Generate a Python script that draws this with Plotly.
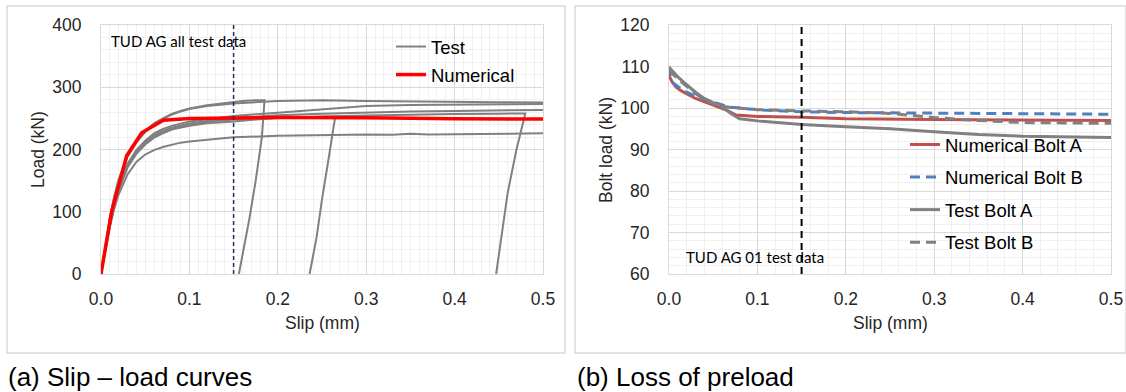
import plotly.graph_objects as go

W, H = 1126, 392

# ---------------- (a) Slip - load curves ----------------
# Seven test records (slip in mm, load in kN); three of them end with an unloading branch
test_slip = [
    [0, 0.005, 0.01, 0.015, 0.02, 0.03, 0.04, 0.05, 0.06, 0.07, 0.08, 0.09, 0.10, 0.12, 0.14, 0.16, 0.175, 0.185,
     0.182, 0.175, 0.168, 0.162, 0.156],
    [0, 0.005, 0.01, 0.015, 0.02, 0.03, 0.04, 0.05, 0.06, 0.07, 0.08, 0.09, 0.10, 0.12, 0.15, 0.2, 0.25, 0.3, 0.35,
     0.4, 0.45, 0.5],
    [0, 0.005, 0.01, 0.015, 0.02, 0.03, 0.04, 0.05, 0.06, 0.07, 0.08, 0.10, 0.12, 0.15, 0.2, 0.25, 0.3, 0.35, 0.4,
     0.45, 0.5],
    [0, 0.005, 0.01, 0.015, 0.02, 0.03, 0.04, 0.05, 0.06, 0.07, 0.08, 0.10, 0.12, 0.15, 0.2, 0.25, 0.3, 0.35, 0.4,
     0.45, 0.5],
    [0, 0.005, 0.01, 0.015, 0.02, 0.03, 0.04, 0.05, 0.06, 0.07, 0.08, 0.10, 0.12, 0.15, 0.18, 0.2, 0.23, 0.265,
     0.258, 0.25, 0.244, 0.236],
    [0, 0.005, 0.01, 0.015, 0.02, 0.03, 0.04, 0.05, 0.06, 0.07, 0.08, 0.10, 0.12, 0.15, 0.2, 0.25, 0.3, 0.35, 0.4,
     0.45, 0.48, 0.47, 0.46, 0.453, 0.447],
    [0, 0.005, 0.01, 0.015, 0.02, 0.03, 0.04, 0.05, 0.06, 0.07, 0.08, 0.09, 0.10, 0.12, 0.15, 0.2, 0.25, 0.3, 0.33,
     0.35, 0.37, 0.4, 0.45, 0.5],
]
test_load = [
    [0, 48, 90, 125, 152, 190, 213, 230, 242, 250, 257, 262, 266, 271, 275, 278, 279, 279,
     220, 150, 90, 45, 0],
    [0, 46, 88, 123, 150, 188, 211, 228, 240, 249, 256, 261, 265, 270, 274, 278, 279, 278, 277,
     277, 276, 275.5],
    [0, 43, 82, 114, 140, 177, 199, 214, 226, 233, 238, 245, 249, 254, 259, 265, 270, 271.5, 272,
     272.5, 273],
    [0, 42, 80, 112, 138, 175, 197, 212, 223, 230, 235, 242, 246, 250, 255, 257.5, 259.5, 261, 262,
     263, 263.5],
    [0, 41, 78, 109, 134, 171, 193, 208, 219, 226, 232, 238, 242, 245, 249, 251, 252, 253,
     190, 120, 60, 0],
    [0, 42, 79, 111, 136, 173, 195, 210, 221, 228, 233, 240, 244, 248, 251, 253, 254.5, 256, 257,
     257.5, 258, 200, 130, 60, 0],
    [0, 40, 75, 105, 128, 160, 180, 192, 199, 204, 208, 211, 213, 216, 219.5, 222, 223.5, 224, 223.5,
     225.5, 224, 224.5, 225, 226],
]

# Finite-element prediction
num_slip = [0, 0.0053, 0.012, 0.0234, 0.029, 0.046, 0.0705, 0.1, 0.15, 0.2, 0.3, 0.35, 0.4, 0.5]
num_load = [0, 44, 100, 160, 190, 227, 247, 250, 251, 251.5, 251, 250, 249.5, 249]

# ---------------- (b) Loss of preload ----------------
numA_slip = [0, 0.003, 0.008, 0.015, 0.03, 0.05, 0.065, 0.076, 0.1, 0.15, 0.2, 0.3, 0.4, 0.5]
numA_load = [107.8, 106.5, 105.0, 104.0, 102.3, 100.8, 99.5, 98.3, 97.95, 97.8, 97.4, 97.2, 97.1, 97.0]

numB_slip = [0, 0.001, 0.0045, 0.016, 0.031, 0.0535, 0.0686, 0.106, 0.15, 0.2, 0.3, 0.4, 0.5]
numB_load = [110.0, 108.0, 106.0, 104.3, 102.7, 101.1, 100.2, 99.5, 99.1, 98.9, 98.8, 98.6, 98.5]

testA_slip = [0, 0.01, 0.02, 0.03, 0.04, 0.05, 0.06, 0.07, 0.08, 0.1, 0.15, 0.2, 0.25, 0.3, 0.35, 0.4, 0.45, 0.5]
testA_load = [109.8, 107.5, 105.6, 103.8, 102.3, 101.2, 100.3, 98.7, 97.4, 96.9, 96.0, 95.5, 95.0, 94.3, 93.6,
              93.2, 93.0, 92.9]

testB_slip = [0, 0.01, 0.02, 0.03, 0.04, 0.05, 0.06, 0.07, 0.1, 0.15, 0.2, 0.25, 0.275, 0.3, 0.34, 0.4, 0.45, 0.5]
testB_load = [109.0, 107.0, 105.2, 103.5, 102.0, 101.0, 100.4, 100.1, 99.6, 99.3, 99.1, 98.7, 98.2, 97.7, 97.1,
              96.5, 96.4, 96.3]

ref_slip = 0.15  # marker slip for both panels

x_ticks = [0.0, 0.1, 0.2, 0.3, 0.4, 0.5]
load_ticks = [0, 100, 200, 300, 400]
bolt_ticks = [60, 70, 80, 90, 100, 110, 120]

GRAY = "#808080"
TXT = "#262626"
FONT = "Liberation Sans, Arial, sans-serif"
TICK_SIZE = 17.5
LEG_SIZE = 18.5

fig = go.Figure()

for i, (s, l) in enumerate(zip(test_slip, test_load)):
    fig.add_trace(go.Scatter(
        x=s, y=l, mode="lines", line=dict(color=GRAY, width=2),
        name="Test", legend="legend", legendgroup="test", showlegend=(i == 0),
        xaxis="x", yaxis="y"))
fig.add_trace(go.Scatter(
    x=num_slip, y=num_load, mode="lines", line=dict(color="#FF0000", width=3.5),
    name="Numerical", legend="legend", legendgroup="num", xaxis="x", yaxis="y"))

fig.add_trace(go.Scatter(
    x=numA_slip, y=numA_load, mode="lines", line=dict(color="#C0504D", width=3),
    name="Numerical Bolt A", legend="legend2", legendgroup="a", xaxis="x2", yaxis="y2"))
fig.add_trace(go.Scatter(
    x=numB_slip, y=numB_load, mode="lines", line=dict(color="#4F81BD", width=3, dash="10px,6px"),
    name="Numerical Bolt B", legend="legend2", legendgroup="b", xaxis="x2", yaxis="y2"))
fig.add_trace(go.Scatter(
    x=testA_slip, y=testA_load, mode="lines", line=dict(color=GRAY, width=3),
    name="Test Bolt A", legend="legend2", legendgroup="c", xaxis="x2", yaxis="y2"))
fig.add_trace(go.Scatter(
    x=testB_slip, y=testB_load, mode="lines", line=dict(color=GRAY, width=3, dash="10px,6px"),
    name="Test Bolt B", legend="legend2", legendgroup="d", xaxis="x2", yaxis="y2"))

ydom = [1 - 274 / H, 1 - 25 / H]


def xaxis(dom, anchor):
    return dict(
        domain=dom, anchor=anchor, range=[0, 0.5], tickvals=x_ticks, tickformat=".1f",
        showgrid=True, gridcolor="#D9D9D9", gridwidth=1,
        showline=True, mirror=True, linecolor="#D9D9D9", linewidth=1,
        zeroline=False, ticks="", ticklabelstandoff=9, automargin=False,
        tickfont=dict(family=FONT, size=TICK_SIZE, color=TXT), fixedrange=True)


def yaxis(rng, ticks, minor_step, anchor):
    return dict(
        domain=ydom, anchor=anchor, range=rng, tickvals=ticks,
        showgrid=True, gridcolor="#D9D9D9", gridwidth=1,
        minor=dict(dtick=minor_step, tick0=rng[0], showgrid=True, gridcolor="#F0F0F0", gridwidth=1),
        showline=True, mirror=True, linecolor="#D9D9D9", linewidth=1,
        zeroline=False, ticks="", ticklabelstandoff=15, automargin=False,
        tickfont=dict(family=FONT, size=TICK_SIZE, color=TXT), fixedrange=True)


xa = xaxis([101 / W, 543 / W], "y")
xa["minor"] = dict(dtick=0.01, tick0=0, showgrid=True, gridcolor="#F0F0F0", gridwidth=1)
xb = xaxis([669 / W, 1111 / W], "y2")
xb["minor"] = dict(dtick=0.02, tick0=0, showgrid=True, gridcolor="#F0F0F0", gridwidth=1)

fig.update_layout(
    width=W, height=H, margin=dict(l=0, r=0, t=0, b=0, pad=0, autoexpand=False),
    paper_bgcolor="white", plot_bgcolor="white",
    font=dict(family=FONT, color="black"),
    xaxis=xa, yaxis=yaxis([0, 400], load_ticks, 20, "x"),
    xaxis2=xb, yaxis2=yaxis([60, 120], bolt_ticks, 2, "x2"),
    legend=dict(x=391 / W, y=1 - 28 / H, xanchor="left", yanchor="top", bgcolor="rgba(0,0,0,0)",
                font=dict(family=FONT, size=LEG_SIZE, color="black"), tracegroupgap=1, itemwidth=30),
    legend2=dict(x=905 / W, y=1 - 126 / H, xanchor="left", yanchor="top", bgcolor="rgba(0,0,0,0)",
                 font=dict(family=FONT, size=LEG_SIZE, color="black"), tracegroupgap=5.5, itemwidth=30),
    showlegend=True,
)

shapes = [
    dict(type="rect", xref="paper", yref="paper", x0=7 / W, x1=565 / W, y0=1 - 353 / H, y1=1 - 6 / H,
         line=dict(color="#D9D9D9", width=1.5), layer="below"),
    dict(type="rect", xref="paper", yref="paper", x0=575 / W, x1=1.0, y0=1 - 353 / H, y1=1 - 6 / H,
         line=dict(color="#D9D9D9", width=1.5), layer="below"),
    dict(type="line", xref="x", yref="y domain", x0=ref_slip, x1=ref_slip, y0=0, y1=1,
         line=dict(color="#2E2A5E", width=1.5, dash="4px,3px")),
    dict(type="line", xref="x2", yref="y2 domain", x0=ref_slip, x1=ref_slip, y0=0, y1=1,
         line=dict(color="black", width=2, dash="7px,5px")),
]
fig.update_layout(shapes=shapes)

ann = [
    dict(text="Load (kN)", x=38 / W, y=1 - 150 / H, textangle=-90, font=dict(size=TICK_SIZE, color=TXT)),
    dict(text="Slip (mm)", x=322 / W, y=1 - 323 / H, font=dict(size=TICK_SIZE, color=TXT)),
    dict(text="Bolt load (kN)", x=606 / W, y=1 - 150 / H, textangle=-90, font=dict(size=TICK_SIZE, color=TXT)),
    dict(text="Slip (mm)", x=890 / W, y=1 - 323 / H, font=dict(size=TICK_SIZE, color=TXT)),
    dict(text="TUD AG all test data", x=109 / W, y=1 - 41 / H, xanchor="left",
         font=dict(family="Lato, Open Sans, sans-serif", size=15, color="black")),
    dict(text="TUD AG 01 test data", x=684 / W, y=1 - 257 / H, xanchor="left",
         font=dict(family="Lato, Open Sans, sans-serif", size=15, color="black")),
    dict(text="(a) Slip – load curves", x=6 / W, y=1 - 377 / H, xanchor="left",
         font=dict(size=26, color="black")),
    dict(text="(b) Loss of preload", x=575 / W, y=1 - 377 / H, xanchor="left",
         font=dict(size=26, color="black")),
]
for a in ann:
    a.update(xref="paper", yref="paper", showarrow=False)
    a.setdefault("xanchor", "center")
    a["yanchor"] = "middle"
    a["font"].setdefault("family", FONT)
fig.update_layout(annotations=ann)

fig.write_html("out.html")
